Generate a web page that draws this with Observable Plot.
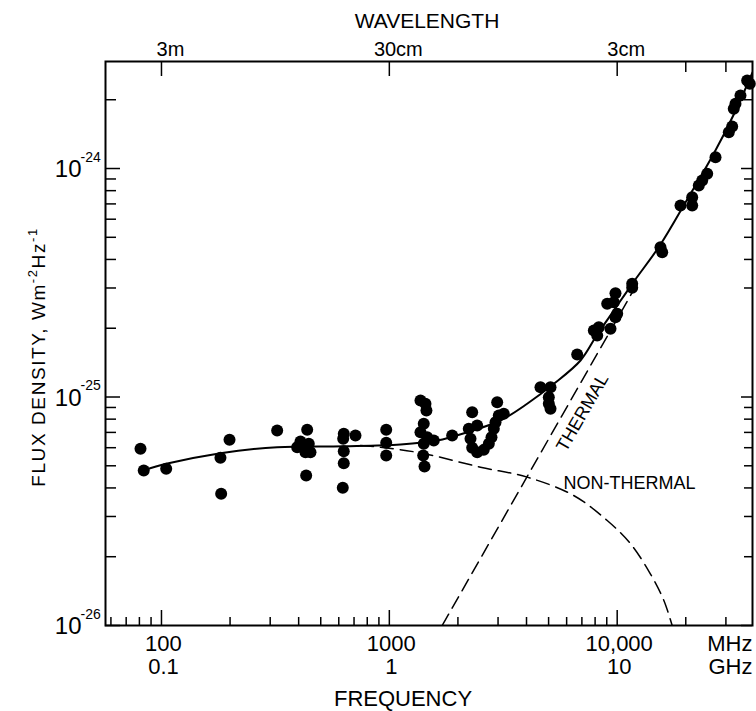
<!DOCTYPE html>
<html><head><meta charset="utf-8">
<script src="https://cdn.jsdelivr.net/npm/d3@7"></script>
<script src="https://cdn.jsdelivr.net/npm/@observablehq/plot@0.6"></script>
<style>body{margin:0;background:#fff} svg{display:block}</style>
</head><body><div id="chart"></div>
<script>
// Flux values in units of 1e-26 W m^-2 Hz^-1, frequency in MHz
const UNIT = 1e-26;
const pointFreqMHz = [80.9, 83.6, 104.9, 181.5, 182.8, 198.9, 321.9, 407.4, 394.0, 436.0, 443.1, 428.5, 450.8, 431.6, 631.1, 627.3, 631, 631, 624.7, 710.2, 969, 969, 969,
  1370, 1441, 1455, 1416, 1370, 1466, 1416, 1567, 1408, 1427, 1887, 2310,
  2232, 2430, 2271, 2310, 2430, 2597, 2733, 2808, 2874, 2924, 3023, 3179, 2974,
  4606, 5098, 5011, 5011, 5098,
  6675, 7897, 8172, 8305, 9346, 9829, 10000, 9040, 9663, 9829, 11636, 11636, 15490, 15760, 18960, 21340, 21340, 22810, 23610, 24830, 27010, 30890, 31960, 32480, 33050, 34760, 37190, 38190];
const pointFlux = [5.93, 4.77, 4.85, 5.42, 3.77, 6.50, 7.14, 6.39, 6.03, 7.19, 6.24, 5.73, 5.73, 4.53, 6.90, 6.56, 5.79, 5.13, 4.01, 6.79, 7.19, 6.30, 5.55,
  9.65, 9.34, 8.73, 7.63, 7.01, 6.67, 6.24, 6.45, 5.55, 4.96, 6.79, 8.58,
  7.26, 7.50, 6.56, 5.99, 5.73, 5.87, 6.24, 6.67, 7.26, 7.76, 8.30, 8.44, 9.49,
  11.04, 11.04, 9.98, 9.34, 8.88,
  15.35, 19.54, 18.58, 20.21, 19.88, 22.35, 23.13, 25.58, 26.0, 28.47, 31.29, 30.06, 45.24, 43.02, 68.9, 68.9, 74.9, 84.3, 88.6, 94.8, 112.1, 144.1, 152.7, 182.5, 192.0, 208.7, 242.7, 234.8];

const totalFreqMHz = [83.6, 104.9, 181.5, 321.9, 631, 1119, 1622, 2196, 3074, 4027, 5268, 6901, 8172, 9663, 11830, 15490, 20290, 26550, 32480, 39250];
const totalFlux = [4.77, 5.10, 5.68, 6.03, 6.09, 6.20, 6.45, 7.01, 7.89, 9.34, 11.42, 14.45, 18.77, 23.9, 32.0, 46.5, 73.2, 116.3, 172.3, 263.1];

const nonThermalFreqMHz = [747, 914.5, 1412, 2512, 4027, 6430, 9040, 11440, 14000, 16010, 17430];
const nonThermalFlux = [6.13, 6.03, 5.66, 4.93, 4.46, 3.71, 2.88, 2.28, 1.68, 1.29, 1.0];

const thermalFreqMHz = [1706, 12240];
const thermalFlux = [1.0, 31.3];

const curveLabels = ["THERMAL", "NON-THERMAL"];
const curveLabelFreqMHz = [7041, 11320];
const curveLabelFlux = [8.55, 4.18];

const freqMajor = [100, 1000, 10000];
const freqLabelsMHz = ["100", "1000", "10,000"];
const freqLabelsGHz = ["0.1", "1", "10"];
const freqMinor = [60, 70, 80, 90, 200, 300, 400, 500, 600, 700, 800, 900, 2000, 3000, 4000, 5000, 6000, 7000, 8000, 9000, 20000, 30000];
const waveMajor = [100, 1000, 10000];
const waveLabels = ["3m", "30cm", "3cm"];
const waveMinor = [20000, 30000];
const fluxMajor = [1e-26, 1e-25, 1e-24];
const fluxExponents = ["-26", "-25", "-24"];
const fluxMinorLeft = [2e-26, 3e-26, 4e-26, 5e-26, 6e-26, 7e-26, 8e-26, 9e-26, 2e-25, 3e-25, 4e-25, 5e-25, 6e-25, 7e-25, 8e-25, 9e-25, 2e-24];
const fluxMinorRight = [2e-26, 3e-26, 4e-26, 5e-26, 6e-26, 7e-26, 8e-26, 9e-26, 3e-25, 4e-25, 5e-25, 6e-25, 7e-25, 8e-25, 9e-25, 2e-24];

const points = pointFreqMHz.map((f, i) => ({f, s: pointFlux[i] * UNIT}));
const total = totalFreqMHz.map((f, i) => ({f, s: totalFlux[i] * UNIT}));
const nonThermal = nonThermalFreqMHz.map((f, i) => ({f, s: nonThermalFlux[i] * UNIT}));
const thermal = thermalFreqMHz.map((f, i) => ({f, s: thermalFlux[i] * UNIT}));
const labels = curveLabels.map((t, i) => ({t, f: curveLabelFreqMHz[i], s: curveLabelFlux[i] * UNIT}));

const W = 756, H = 711, ML = 105, MR = 4, MT = 61, MB = 86;
const IW = W - ML - MR, IH = H - MT - MB;
const FONT = "'Liberation Sans', Arial, sans-serif";

const svg = Plot.plot({
  width: W, height: H,
  marginLeft: ML, marginRight: MR, marginTop: MT, marginBottom: MB,
  x: {type: "log", domain: [56.8, 39250], axis: null},
  y: {type: "log", domain: [1e-26, 2.94e-24], axis: null},
  style: {fontFamily: FONT, color: "black", background: "white"},
  marks: [
    // ticks
    Plot.ruleX(freqMajor, {x: d => d, insetTop: IH - 15, stroke: "black", strokeWidth: 1.5}),
    Plot.ruleX(freqMinor, {x: d => d, insetTop: IH - 8, stroke: "black", strokeWidth: 1.5}),
    Plot.ruleX(waveMajor, {x: d => d, insetBottom: IH - 15, stroke: "black", strokeWidth: 1.5}),
    Plot.ruleX(waveMinor, {x: d => d, insetBottom: IH - 11, stroke: "black", strokeWidth: 1.5}),
    Plot.ruleY(fluxMajor, {y: d => d, insetRight: IW - 15, stroke: "black", strokeWidth: 1.5}),
    Plot.ruleY(fluxMinorLeft, {y: d => d, insetRight: IW - 11, stroke: "black", strokeWidth: 1.5}),
    Plot.ruleY(fluxMajor, {y: d => d, insetLeft: IW - 11, stroke: "black", strokeWidth: 1.5}),
    Plot.ruleY(fluxMinorRight, {y: d => d, insetLeft: IW - 8, stroke: "black", strokeWidth: 1.5}),
    // curves
    Plot.line(thermal, {x: "f", y: "s", stroke: "black", strokeWidth: 1.5, strokeDasharray: "13,7", clip: true}),
    Plot.line(nonThermal, {x: "f", y: "s", stroke: "black", strokeWidth: 1.5, strokeDasharray: "13,7", curve: "catmull-rom", clip: true}),
    Plot.line(total, {x: "f", y: "s", stroke: "black", strokeWidth: 2, curve: "catmull-rom", clip: true}),
    Plot.dot(points, {x: "f", y: "s", r: 6, fill: "black", stroke: "none"}),
    // curve labels
    Plot.text(labels.slice(0, 1), {x: "f", y: "s", text: "t", rotate: -60, fontSize: 18}),
    Plot.text(labels.slice(1), {x: "f", y: "s", text: "t", fontSize: 18}),
    // frame
    Plot.frame({stroke: "black", strokeWidth: 2}),
    // bottom axis labels
    Plot.text(freqMajor, {x: d => d, text: (d, i) => freqLabelsMHz[i], frameAnchor: "bottom", lineAnchor: "bottom", dx: 2, dy: 25, fontSize: 22}),
    Plot.text(freqMajor, {x: d => d, text: (d, i) => freqLabelsGHz[i], frameAnchor: "bottom", lineAnchor: "bottom", dx: 2, dy: 48, fontSize: 22}),
    Plot.text(["MHz"], {frameAnchor: "bottom-right", textAnchor: "end", lineAnchor: "bottom", dy: 25, fontSize: 22}),
    Plot.text(["GHz"], {frameAnchor: "bottom-right", textAnchor: "end", lineAnchor: "bottom", dy: 48, fontSize: 22}),
    Plot.text(["FREQUENCY"], {frameAnchor: "bottom", lineAnchor: "bottom", dx: -26, dy: 80, fontSize: 22}),
    // top axis labels
    Plot.text(waveMajor, {x: d => d, text: (d, i) => waveLabels[i], frameAnchor: "top", lineAnchor: "bottom", dx: 9, dy: -6, fontSize: 20}),
    Plot.text(["WAVELENGTH"], {frameAnchor: "top", lineAnchor: "bottom", dx: -2, dy: -34, fontSize: 21}),
    // y tick labels
    Plot.text(fluxMajor, {y: d => d, text: () => "10", frameAnchor: "left", textAnchor: "end", lineAnchor: "bottom", dx: -24, dy: 8.5, fontSize: 24}),
    Plot.text(fluxMajor, {y: d => d, text: (d, i) => fluxExponents[i], frameAnchor: "left", textAnchor: "start", lineAnchor: "bottom", dx: -25, dy: -7, fontSize: 14})
  ]
});

// y-axis title with superscripts
const title = d3.select(svg).append("text")
  .attr("transform", "translate(45,357) rotate(-90)")
  .attr("text-anchor", "middle")
  .attr("font-family", FONT)
  .attr("font-size", 19)
  .attr("letter-spacing", 1.6)
  .attr("fill", "black");
title.append("tspan").text("FLUX DENSITY, Wm");
title.append("tspan").attr("dy", -8).attr("font-size", 13).text("-2");
title.append("tspan").attr("dy", 8).text("Hz");
title.append("tspan").attr("dy", -8).attr("font-size", 13).text("-1");

document.getElementById("chart").appendChild(svg);
</script>
</body></html>
